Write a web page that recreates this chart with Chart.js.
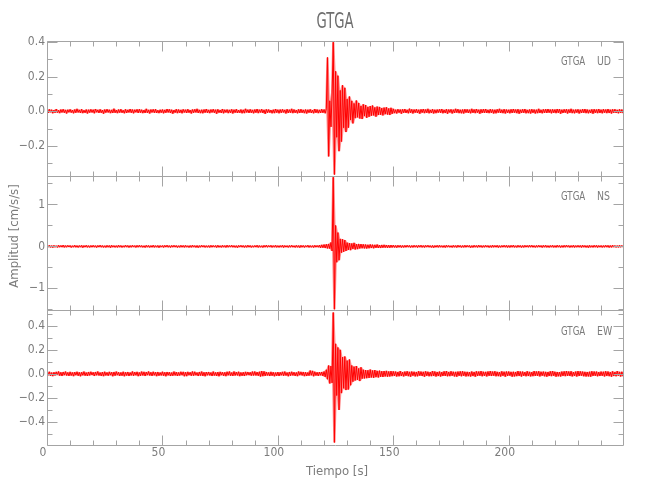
<!DOCTYPE html>
<html lang="es">
<head>
<meta charset="utf-8">
<title>GTGA</title>
<script src="https://cdn.jsdelivr.net/npm/chart.js@4.4.1/dist/chart.umd.min.js"></script>
<style>
    html, body { margin: 0; padding: 0; background: #fff; }
    #marco { position: relative; width: 650px; height: 500px; }
</style>
</head>
<body>
<div id="marco"><canvas id="sismo"></canvas></div>
<script>
const estacion = 'GTGA';
const componentes = ['UD', 'NS', 'EW'];
const dt = 0.5; // intervalo de muestreo [s]
const unidad = 0.001; // las muestras van en milesimas de cm/s/s

const ud = [
    8,-10,11,-6,9,-12,7,-9,13,-8,6,-11,10,-7,12,-9,8,-13,9,-6,
    11,-8,7,-12,10,-9,14,-7,8,-10,12,-11,6,-9,10,-13,9,-8,11,-7,
    9,-12,13,-6,8,-10,11,-9,7,-14,10,-8,12,-7,9,-11,8,-10,15,-9,
    7,-11,10,-8,12,-9,6,-12,11,-10,8,-7,13,-9,10,-12,9,-6,11,-10,
    12,-8,9,-11,7,-10,14,-9,8,-13,10,-7,11,-9,12,-10,6,-11,9,-8,
    10,-12,8,-9,13,-7,11,-10,9,-14,7,-8,12,-11,10,-9,8,-12,11,-7,
    9,-10,12,-8,7,-13,10,-9,11,-7,14,-10,8,-11,9,-12,10,-8,13,-9,
    8,-11,10,-7,12,-9,9,-14,11,-8,7,-10,13,-12,9,-7,10,-11,8,-9,
    11,-13,9,-8,12,-10,7,-9,10,-12,8,-11,14,-7,9,-10,11,-9,8,-12,
    10,-8,13,-11,9,-7,12,-10,8,-15,11,-9,10,-8,7,-12,9,-11,13,-8,
    9,-12,10,-9,11,-7,8,-13,12,-10,9,-8,14,-11,10,-9,7,-12,11,-10,
    12,-9,8,-11,10,-13,9,-8,11,-10,7,-12,13,-9,10,-11,8,-10,12,-9,
    10,-12,14,310,-260,60,-90,105,398,-365,230,-150,205,-230,120,-175,150,-95,135,-120,
    70,-95,85,-50,60,-70,45,-40,62,-35,48,-42,30,-45,40,-28,36,-38,25,-32,
    30,-26,33,-24,22,-31,27,-22,25,-20,18,-24,21,-17,23,-19,16,-22,20,-15,
    14,-11,9,-13,12,-8,10,-14,11,-9,13,-10,8,-12,15,-9,11,-13,10,-8,
    12,-10,9,-14,11,-8,13,-11,10,-9,14,-12,8,-10,12,-13,9,-11,10,-8,
    11,-9,13,-12,8,-10,12,-14,10,-7,11,-13,9,-10,14,-8,12,-11,9,-12,
    10,-13,12,-8,11,-10,9,-12,14,-9,10,-11,13,-8,9,-14,11,-10,12,-9,
    13,-10,8,-11,12,-9,10,-13,9,-12,11,-8,14,-10,9,-11,12,-13,10,-9,
    9,-12,11,-10,13,-8,10,-11,12,-14,9,-10,11,-9,13,-12,8,-11,10,-13,
    12,-9,10,-13,9,-11,14,-10,8,-12,11,-9,12,-10,13,-8,10,-12,11,-9,
    10,-11,13,-9,12,-14,9,-10,11,-8,12,-13,10,-9,14,-11,9,-12,10,-8,
    11,-13,9,-10,12,-9,13,-11,10,-12,8,-10,11,-14,12,-9,10,-11,13,-10,
    9,-12,12,-8,10,-11,13,-10,9,-13,11,-9,12,-10,8,-12,11,-9,10,-11,
];

const ns = [
    22,-18,27,-24,19,-30,25,-21,17,-26,28,-20,23,-19,31,-25,20,-22,26,-17,
    24,-28,18,-21,29,-23,20,-27,22,-19,25,-30,21,-18,27,-24,19,-26,23,-20,
    26,-21,19,-29,24,-18,30,-22,21,-25,18,-27,25,-20,22,-31,27,-19,20,-24,
    19,-25,28,-20,23,-26,17,-22,30,-19,24,-28,21,-23,26,-18,20,-27,25,-21,
    27,-19,22,-24,18,-29,26,-20,23,-27,20,-22,29,-25,19,-21,24,-30,22,-18,
    21,-26,25,-18,30,-23,19,-27,24,-20,27,-19,22,-28,18,-24,26,-21,23,-25,
    25,-20,18,-28,22,-24,29,-19,21,-26,23,-30,20,-22,27,-18,24,-25,19,-23,
    20,-27,26,-21,24,-19,22,-29,28,-23,18,-25,25,-20,21,-27,30,-22,23,-19,
    28,-22,21,-25,19,-30,24,-18,26,-21,22,-27,20,-24,29,-19,23,-26,18,-22,
    23,-19,29,-26,21,-22,18,-28,25,-20,30,-23,22,-18,26,-25,19,-21,27,-24,
    19,-24,22,-20,27,-29,23,-19,20,-26,24,-22,28,-21,18,-27,25,-23,21,-30,
    26,-21,24,-27,20,-18,29,-25,22,-23,19,-28,27,-20,24,-22,30,-35,38,-32,
    45,-40,52,-48,60,-55,95,-110,1650,-1500,500,-380,330,-330,180,-150,170,-130,150,-110,
    90,-85,80,-90,70,-60,85,-75,55,-65,60,-50,55,-45,50,-48,45,-52,40,-45,
    48,-40,42,-46,38,-35,45,-38,33,-40,36,-32,38,-30,34,-35,30,-33,32,-28,
    30,-26,24,-31,28,-22,26,-29,21,-27,25,-23,29,-20,24,-28,22,-25,27,-21,
    23,-28,26,-20,29,-24,21,-27,25,-19,28,-22,20,-26,24,-30,22,-21,26,-24,
    27,-21,19,-25,22,-29,28,-20,24,-23,18,-27,25,-22,21,-28,29,-19,23,-26,
    20,-24,28,-22,25,-18,23,-30,19,-26,27,-21,22,-25,30,-20,24,-27,21,-23,
    26,-19,22,-28,20,-25,29,-23,24,-21,26,-29,19,-24,23,-20,28,-22,25,-27,
    22,-27,25,-21,30,-24,18,-26,27,-20,23,-28,21,-25,26,-19,24,-23,29,-21,
    28,-23,20,-26,24,-22,27,-19,22,-29,25,-21,28,-24,19,-27,23,-20,26,-25,
    19,-25,29,-20,23,-28,21,-24,26,-22,30,-19,24,-27,22,-23,27,-26,20,-22,
    25,-22,23,-27,28,-21,24,-25,20,-30,26,-23,19,-24,27,-21,25,-28,22,-20,
    24,-26,21,-23,27,-20,25,-29,22,-24,28,-19,23,-26,20,-25,26,-22,24,-21,
];

const ew = [
    15,-12,18,-16,11,-19,14,-13,17,-10,20,-15,13,-18,16,-11,19,-14,12,-17,
    17,-14,12,-19,15,-11,18,-16,13,-20,14,-12,19,-15,11,-17,16,-13,18,-10,
    13,-18,16,-12,20,-14,11,-17,15,-19,18,-13,12,-16,17,-11,14,-20,16,-15,
    19,-11,14,-17,12,-15,18,-20,13,-14,16,-18,11,-13,20,-16,15,-12,17,-19,
    12,-16,19,-13,17,-18,15,-11,20,-14,13,-17,18,-12,14,-19,16,-15,11,-13,
    18,-15,13,-20,16,-12,14,-18,11,-16,19,-13,15,-17,12,-14,18,-11,17,-20,
    14,-19,17,-11,13,-16,20,-15,18,-12,11,-18,16,-14,19,-17,13,-20,15,-12,
    16,-13,11,-18,19,-14,12,-17,15,-20,17,-11,14,-16,13,-19,18,-12,20,-15,
    11,-17,20,-14,15,-13,18,-19,12,-16,14,-18,17,-12,16,-11,13,-15,19,-14,
    20,-14,15,-16,18,-22,24,-19,21,-17,16,-13,12,-18,17,-15,14,-20,11,-16,
    15,-18,13,-12,17,-16,19,-14,11,-20,16,-15,18,-13,14,-17,12,-19,20,-11,
    17,-13,16,-19,14,-18,12,-15,28,-12,25,-20,18,-14,13,-17,15,-12,16,-18,
    20,-25,35,-45,70,-80,65,-75,510,-570,250,-180,220,-300,200,-160,140,-120,145,-135,
    110,-130,120,-95,70,-65,60,-55,65,-50,45,-60,55,-40,35,-38,32,-36,30,-34,
    36,-30,28,-33,32,-27,25,-30,27,-24,22,-26,24,-21,25,-23,20,-22,23,-19,
    21,-17,19,-22,16,-20,23,-18,15,-21,19,-16,22,-19,17,-23,20,-15,18,-21,
    16,-20,22,-15,19,-18,17,-23,21,-16,18,-20,15,-19,23,-17,20,-22,16,-18,
    19,-22,15,-18,21,-17,23,-20,16,-19,22,-15,18,-21,17,-23,19,-16,21,-20,
    22,-16,18,-21,17,-19,15,-22,20,-18,16,-23,21,-17,19,-15,23,-20,18,-16,
    17,-21,20,-16,23,-18,19,-15,22,-20,17,-19,15,-22,21,-16,18,-23,20,-17,
    20,-15,17,-23,18,-21,16,-19,23,-17,20,-22,19,-16,15,-20,22,-18,17,-21,
    15,-19,23,-17,20,-16,22,-21,18,-15,19,-20,17,-23,16,-18,21,-19,23,-16,
    18,-23,16,-20,15,-22,19,-17,21,-19,23,-16,20,-18,22,-21,15,-17,19,-22,
    23,-18,21,-15,19,-20,17,-22,16,-21,18,-23,22,-17,20,-16,19,-20,15,-18,
    19,-16,18,-21,22,-17,20,-19,15,-23,21,-18,16,-20,23,-15,17,-22,18,-20,
];

// Rangos de los ejes y marcas con etiqueta
const rangoTiempo = [0, 249.5];
const rangoUD = [-0.371, 0.4045];
const rangoNS = [-1.524, 1.686];
const rangoEW = [-0.591, 0.528];
const marcasTiempo = [0, 50, 100, 150, 200];
const marcasUD = [-0.2, 0.0, 0.2, 0.4];
const marcasNS = [-1, 0, 1];
const marcasEW = [-0.4, -0.2, 0.0, 0.2, 0.4];

const rojo = '#ff0000';
const rosa = 'rgba(255, 0, 0, 0.45)';
const grisMarco = '#a4a4a4';
const grisTexto = '#7c7c7c';
const fuente = "'Liberation Sans Narrow', 'DejaVu Sans Condensed', 'Roboto Condensed', sans-serif";

Chart.defaults.font.family = fuente;
Chart.defaults.color = grisTexto;

function puntos(muestras) {
    return muestras.map((v, i) => ({ x: i * dt, y: v * unidad }));
}

// Envolvente de la traza: extremo de cada muestra y sus vecinas
function envolvente(muestras, signo) {
    return muestras.map((v, i) => {
        const vecinas = [muestras[i - 1] ?? v, v, muestras[i + 1] ?? v, 0];
        const extremo = signo > 0 ? Math.max(...vecinas) : Math.min(...vecinas);

        return { x: i * dt, y: extremo * unidad };
    });
}

function etiqueta(valor, decimales) {
    const v = Math.abs(valor) < 1e-9 ? 0 : valor;

    return v.toFixed(decimales).replace('-', '\u2212');
}

function ejeY(rango, marcas, decimales, orden) {
    return {
        type: 'linear',
        position: 'left',
        stack: 'canales',
        stackWeight: 1,
        weight: orden,
        min: rango[0],
        max: rango[1],
        grid: { display: false, drawTicks: false },
        border: { display: false },
        ticks: {
            padding: 2,
            autoSkip: false,
            font: { size: 12 },
            callback: (v) => etiqueta(v, decimales),
        },
        afterBuildTicks: (scale) => {
            scale.ticks = marcas.map((value) => ({ value }));
        },
        afterFit: (scale) => {
            scale.width = 40;
        },
    };
}

function canal(nombre, muestras, eje) {
    return [
        {
            label: `${nombre} sup`,
            data: envolvente(muestras, 1),
            yAxisID: eje,
            borderWidth: 0,
            borderColor: 'rgba(0, 0, 0, 0)',
            backgroundColor: rosa,
            fill: '+1',
        },
        {
            label: `${nombre} inf`,
            data: envolvente(muestras, -1),
            yAxisID: eje,
            borderWidth: 0,
            borderColor: 'rgba(0, 0, 0, 0)',
            fill: false,
        },
        {
            label: nombre,
            data: puntos(muestras),
            yAxisID: eje,
            borderColor: rojo,
            fill: false,
        },
    ];
}

// Paneles: eje, paso de marca menor, paso de marca mayor, componente
const paneles = [
    { eje: 'yUD', menor: 0.1, mayor: 0.2, comp: componentes[0] },
    { eje: 'yNS', menor: 0.5, mayor: 1, comp: componentes[1] },
    { eje: 'yEW', menor: 0.1, mayor: 0.2, comp: componentes[2] },
];

function texto(ctx, str, x, y, size, align, sx, color) {
    ctx.save();
    ctx.font = `${size}px ${fuente}`;
    ctx.fillStyle = color;
    ctx.textAlign = align;
    ctx.textBaseline = 'middle';
    ctx.translate(x, y);
    ctx.scale(sx, 1);
    ctx.fillText(str, 0, 0);
    ctx.restore();
}

const marcos = {
    id: 'marcos',
    afterDraw(chart) {
        const ctx = chart.ctx;
        const xs = chart.scales.x;
        const left = Math.round(xs.left) + 0.5;
        const right = Math.round(xs.right) + 0.5;

        ctx.save();
        ctx.strokeStyle = grisMarco;
        ctx.lineWidth = 1;

        paneles.forEach((p) => {
            const ys = chart.scales[p.eje];
            const top = Math.round(ys.top) + 0.5;
            const bottom = Math.round(ys.bottom) + 0.5;

            ctx.beginPath();
            ctx.rect(left, top, right - left, bottom - top);

            for (let t = rangoTiempo[0]; t <= rangoTiempo[1]; t += 10) {
                const px = Math.round(xs.getPixelForValue(t)) + 0.5;
                const largo = t % 50 === 0 ? 10 : 5;
                ctx.moveTo(px, top);
                ctx.lineTo(px, top + largo);
                ctx.moveTo(px, bottom);
                ctx.lineTo(px, bottom - largo);
            }

            const inicio = Math.ceil(ys.min / p.menor - 1e-6);
            for (let k = inicio; k * p.menor <= ys.max + 1e-9; k++) {
                const v = k * p.menor;
                const py = Math.round(ys.getPixelForValue(v)) + 0.5;
                const ratio = v / p.mayor;
                const largo = Math.abs(ratio - Math.round(ratio)) < 1e-6 ? 10 : 5;
                ctx.moveTo(left, py);
                ctx.lineTo(left + largo, py);
                ctx.moveTo(right, py);
                ctx.lineTo(right - largo, py);
            }
            ctx.stroke();

            texto(ctx, estacion, 561, ys.top + 21, 13, 'left', 0.74, grisTexto);
            texto(ctx, p.comp, 597, ys.top + 21, 13, 'left', 0.8, grisTexto);
        });
        ctx.restore();

        const cx = (xs.left + xs.right) / 2;
        texto(ctx, estacion, cx, 23, 21, 'center', 0.7, '#6e6e6e');
        texto(ctx, 'Tiempo [s]', cx + 2, 472, 13, 'center', 1, grisTexto);

        ctx.save();
        ctx.translate(15, 236);
        ctx.rotate(-Math.PI / 2);
        texto(ctx, 'Amplitud [cm/s/s]', 0, 0, 13, 'center', 1, grisTexto);
        ctx.restore();
    },
};

new Chart(document.getElementById('sismo'), {
    type: 'line',
    data: {
        datasets: [
            ...canal('UD', ud, 'yUD'),
            ...canal('NS', ns, 'yNS'),
            ...canal('EW', ew, 'yEW'),
        ],
    },
    options: {
        responsive: true,
        maintainAspectRatio: false,
        animation: false,
        events: [],
        layout: { padding: { left: 7, top: 41, right: 27, bottom: 35 } },
        elements: {
            point: { radius: 0 },
            line: { borderWidth: 1, tension: 0 },
        },
        plugins: {
            legend: { display: false },
            tooltip: { enabled: false },
        },
        scales: {
            x: {
                type: 'linear',
                position: 'bottom',
                min: rangoTiempo[0],
                max: rangoTiempo[1],
                grid: { display: false, drawTicks: false },
                border: { display: false },
                ticks: {
                    padding: 1,
                    labelOffset: -4,
                    autoSkip: false,
                    maxRotation: 0,
                    font: { size: 12 },
                    callback: (v) => etiqueta(v, 0),
                },
                afterBuildTicks: (scale) => {
                    scale.ticks = marcasTiempo.map((value) => ({ value }));
                },
                afterFit: (scale) => {
                    scale.height = 20;
                },
            },
            yUD: ejeY(rangoUD, marcasUD, 1, 3),
            yNS: ejeY(rangoNS, marcasNS, 0, 2),
            yEW: ejeY(rangoEW, marcasEW, 1, 1),
        },
    },
    plugins: [marcos],
});
</script>
</body>
</html>
